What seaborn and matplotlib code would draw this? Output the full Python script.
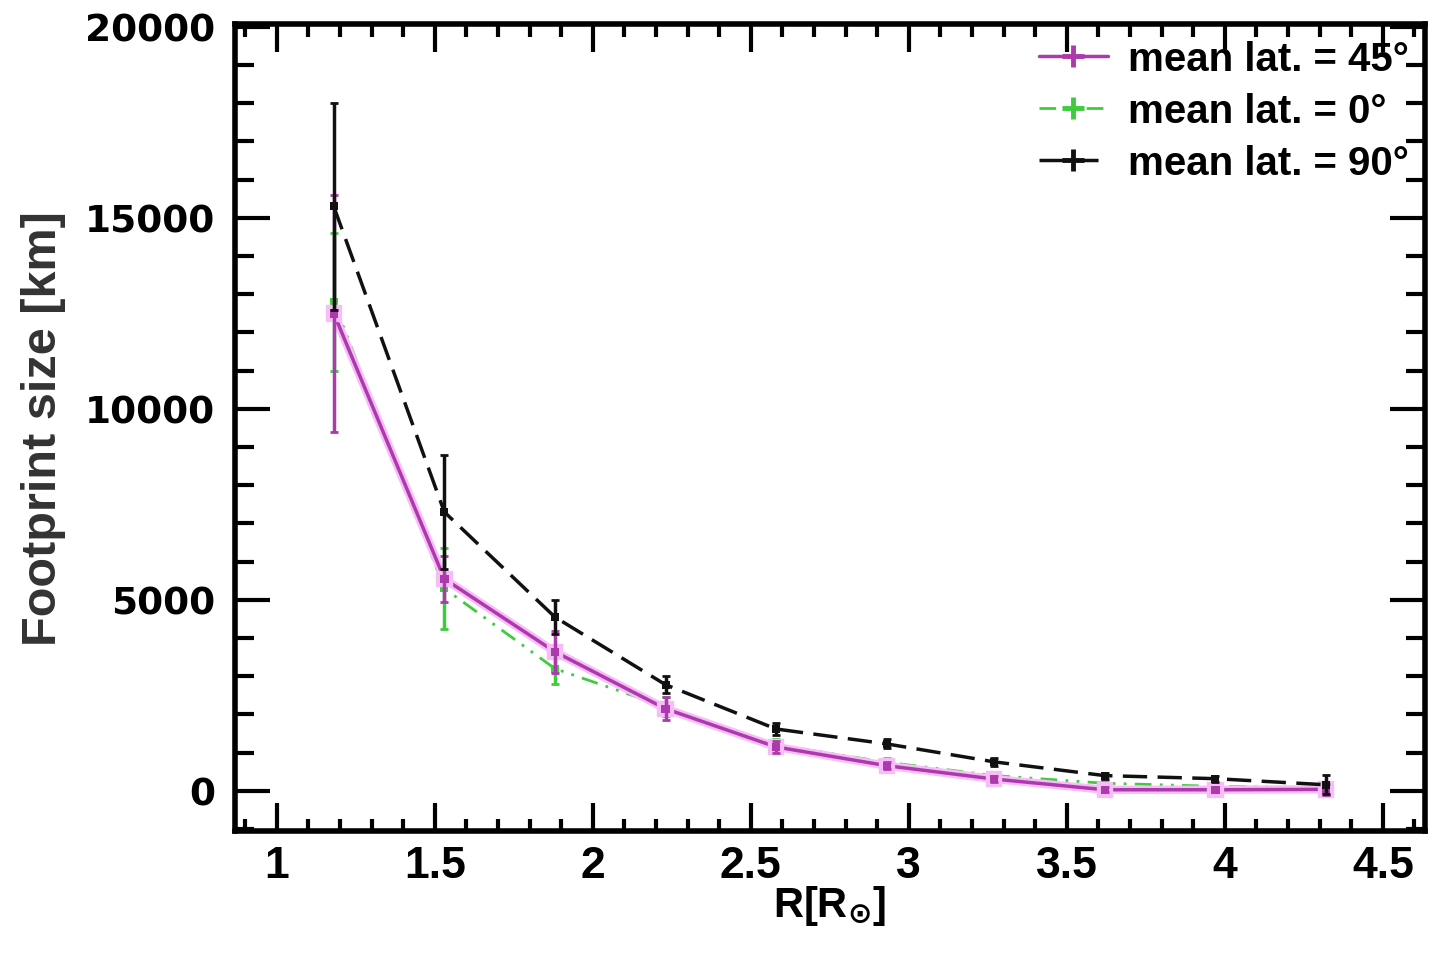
import numpy as np
import pandas as pd
import matplotlib
matplotlib.use("Agg")
import matplotlib.pyplot as plt
import matplotlib.patheffects as pe
import seaborn as sns
from matplotlib.ticker import MultipleLocator, FormatStrFormatter

# ---- data ----
radius = [1.18, 1.53, 1.88, 2.23, 2.58, 2.93, 3.27, 3.62, 3.97, 4.32]
lat45 = [12500, 5550, 3640, 2150, 1150, 660, 310, 30, 30, 40]
lat45_err = [3100, 600, 550, 300, 150, 100, 80, 60, 50, 150]
lat0 = [12800, 5300, 3200, 2200, 1200, 750, 400, 200, 120, 80]
lat0_err = [1800, 1050, 400, 250, 150, 100, 80, 60, 50, 40]
lat90 = [15300, 7300, 4550, 2780, 1620, 1230, 760, 400, 320, 160]
lat90_err = [2700, 1500, 450, 220, 150, 120, 100, 80, 80, 250]
labels = ["mean lat. = 45°", "mean lat. = 0°", "mean lat. = 90°"]

sns.set_theme(style="ticks")
plt.rcParams['font.family'] = ['Liberation Sans', 'DejaVu Sans']
plt.rcParams['font.weight'] = 'bold'
plt.rcParams['mathtext.fontset'] = 'dejavusans'
plt.rcParams['text.color'] = 'black'
plt.rcParams['xtick.color'] = 'black'
plt.rcParams['ytick.color'] = 'black'
plt.rcParams['axes.labelcolor'] = 'black'

fig = plt.figure(figsize=(14.32, 9.54), dpi=100)
ax = fig.add_axes([0.164, 0.128, 0.831, 0.846])

series = [
    (lat0, lat0_err, labels[1], '#3dcc3d', (0, (6, 3, 1, 3, 1, 3)), 2.0, None),
    (lat45, lat45_err, labels[0], '#ad3aad', '-', 2.5, '#f7bdf7'),
    (lat90, lat90_err, labels[2], '#111111', (0, (7, 3)), 2.5, None),
]
handles = {}
for vals, errs, lab, col, ls, lw, halo in series:
    df = pd.DataFrame({"R": radius, "size": vals})
    sns.lineplot(data=df, x="R", y="size", ax=ax, color=col, linewidth=lw,
                 marker='s', markersize=6, markeredgewidth=0, legend=False)
    line = ax.lines[-1]
    line.set_linestyle(ls)
    if halo:
        line.set_path_effects([pe.Stroke(linewidth=6, foreground=halo), pe.Normal()])
    ax.errorbar(radius, vals, yerr=errs, fmt='none', ecolor=col,
                elinewidth=2.5, capsize=3, capthick=2)
    proxy = plt.Line2D([], [], color=col, linestyle=ls, linewidth=lw,
                       marker='+', markersize=16, markeredgewidth=3.5)
    handles[lab] = proxy

ax.set_xlim(0.867, 4.633)
ax.set_ylim(-1047, 20080)
ax.xaxis.set_major_locator(MultipleLocator(0.5))
ax.xaxis.set_minor_locator(MultipleLocator(0.1))
ax.xaxis.set_major_formatter(FormatStrFormatter('%g'))
ax.yaxis.set_major_locator(MultipleLocator(5000))
ax.yaxis.set_minor_locator(MultipleLocator(1000))

ax.tick_params(axis='x', which='major', direction='in', length=20, width=3,
               top=True, bottom=True, pad=10, labelsize=32)
ax.tick_params(axis='x', which='minor', direction='in', length=9, width=3,
               top=True, bottom=True)
ax.tick_params(axis='y', which='major', direction='in', length=25, width=3,
               left=True, right=True, pad=14, labelsize=27)
ax.tick_params(axis='y', which='minor', direction='in', length=14, width=3,
               left=True, right=True)
for lbl in ax.get_xticklabels():
    lbl.set_fontweight('bold')
    lbl.set_family(['Liberation Sans', 'DejaVu Sans'])
for lbl in ax.get_yticklabels():
    lbl.set_fontweight('bold')
    lbl.set_family(['DejaVu Sans'])

for sp in ax.spines.values():
    sp.set_linewidth(4)
    sp.set_color('black')

ax.set_xlabel(r'R[R$_{\odot}$]', fontsize=30, fontweight='bold', labelpad=-2)
ax.set_ylabel('Footprint size [km]', fontsize=35, fontweight='bold',
              color='#333333', labelpad=14)

leg = ax.legend([handles[l] for l in labels], labels, loc='upper right',
                bbox_to_anchor=(1.0, 1.0), frameon=False, fontsize=29,
                handlelength=1.7, labelspacing=0.35, borderaxespad=0.1,
                borderpad=0.3, handletextpad=0.5)
for t in leg.get_texts():
    t.set_fontweight('bold')

fig.savefig('out.png', dpi=100)
